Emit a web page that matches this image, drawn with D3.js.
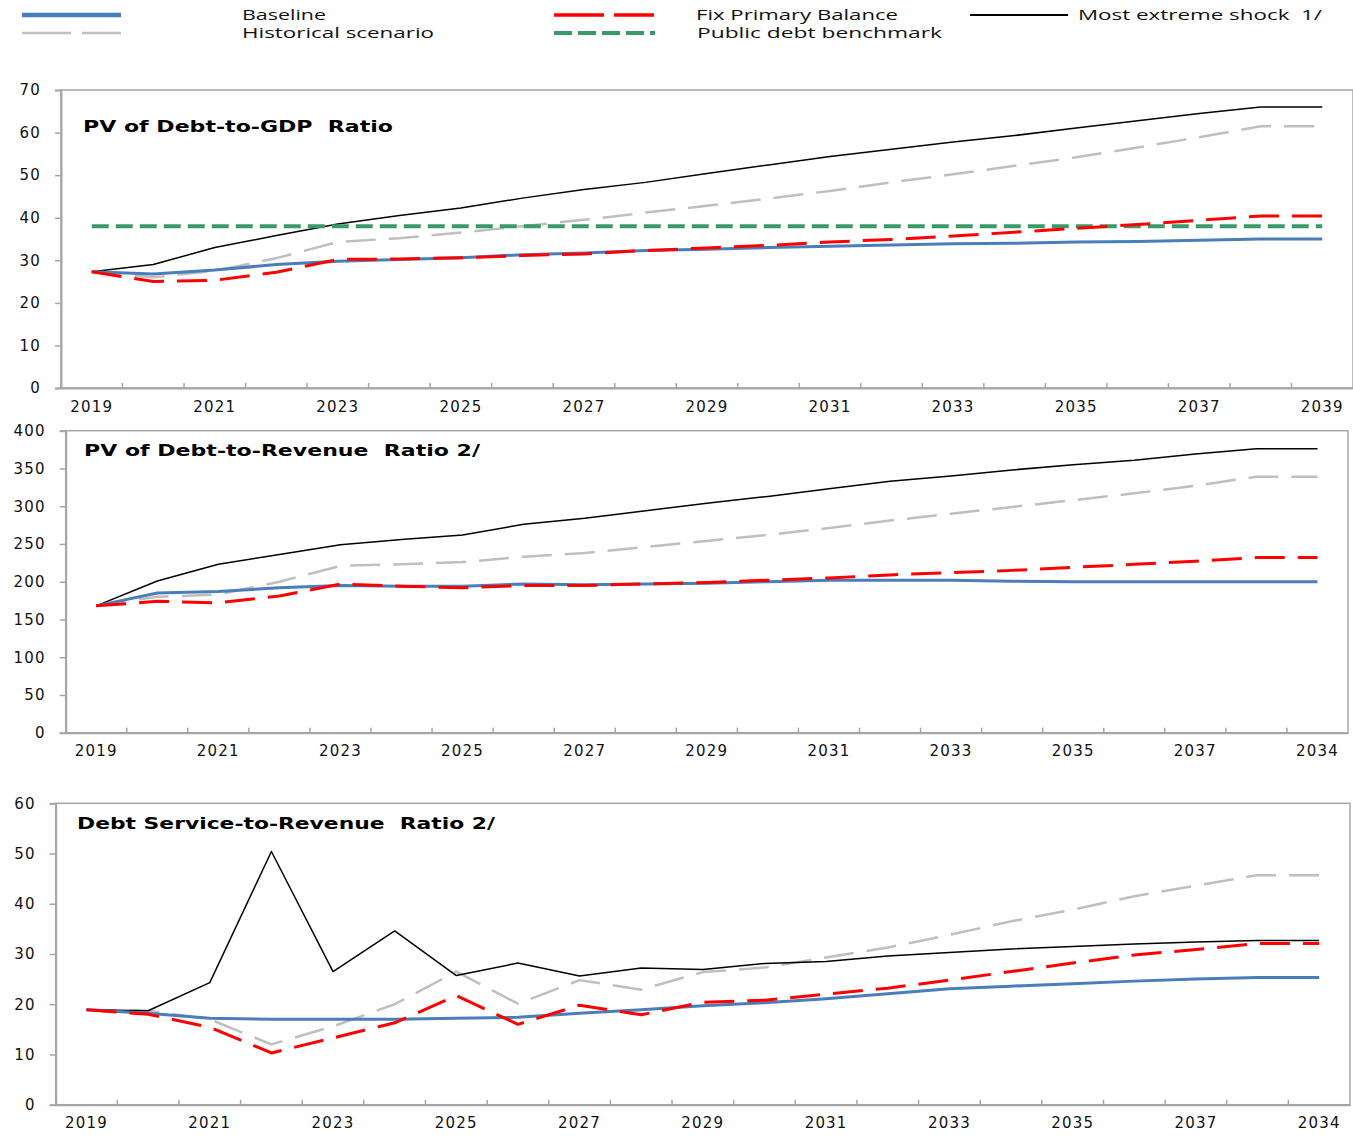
<!DOCTYPE html>
<html><head><meta charset="utf-8">
<script src="https://cdn.jsdelivr.net/npm/d3@7"></script>
<style>
body{margin:0;background:#fff;}
svg{display:block;}
.tick text{font-family:"DejaVu Sans",sans-serif;font-size:15px;fill:#111;letter-spacing:1.2px;}
.ttl{white-space:pre;}
</style></head>
<body>
<svg id="chart" width="1353" height="1137"></svg>
<script>
// ---------- data ----------
const years = d3.range(2019, 2040).map(String);
const xTickLabels1 = ["2019","2021","2023","2025","2027","2029","2031","2033","2035","2037","2039"];
const xTickLabels23 = ["2019","2021","2023","2025","2027","2029","2031","2033","2035","2037","2034"];

// Panel 1: PV of Debt-to-GDP
const gdpBaseline = [27.3,26.8,27.7,29.0,29.8,30.2,30.6,31.3,31.7,32.3,32.6,33.0,33.3,33.6,33.9,34.0,34.3,34.4,34.7,35.0,35.0];
const gdpFixPB    = [27.3,25.0,25.3,27.2,30.2,30.3,30.6,31.1,31.5,32.3,32.9,33.5,34.3,34.9,35.7,36.6,37.5,38.4,39.4,40.4,40.4];
const gdpHist     = [27.3,26.0,27.5,30.5,34.3,35.2,36.5,38.0,39.5,41.2,42.8,44.5,46.3,48.3,50.2,52.2,54.2,56.5,58.9,61.5,61.5];
const gdpShock    = [27.3,29.0,33.0,35.8,38.5,40.5,42.3,44.6,46.6,48.3,50.4,52.4,54.4,56.1,57.8,59.3,61.1,62.8,64.5,66.0,66.0];
const gdpBenchmark= [38,38,38,38,38,38,38,38,38,38,38,38,38,38,38,38,38,38,38,38,38];

// Panel 2: PV of Debt-to-Revenue
const revBaseline = [168,185,187,192,195,194,194,197,196,197,198,200,202,202,202,200.5,200,200,200,200,200];
const revFixPB    = [168,174,172,181,197,194,192,195,195,197,199,202,205,209,212,215,219,223,227,232,232];
const revHist     = [168,180,183,200,221,223,226,233,238,246,254,262,271,281,290,299,308,317,327,339,339];
const revShock    = [168,201,223,236,249,256,262,276,284,294,304,313,323,333,340,348,355,361,369,376,376];

// Panel 3: Debt Service-to-Revenue
const dsBaseline = [18.9,18.2,17.2,17.0,17.0,17.0,17.2,17.4,18.2,18.9,19.7,20.3,21.1,22.1,23.1,23.6,24.1,24.6,25.0,25.3,25.3];
const dsFixPB    = [18.9,18.0,15.4,10.3,13.3,16.3,21.7,16.0,19.8,17.9,20.4,20.8,22.0,23.2,24.8,26.5,28.2,29.8,30.9,32.1,32.1];
const dsHist     = [18.9,18.7,17.0,12.0,15.6,20.0,26.5,20.1,24.8,22.9,26.4,27.3,29.3,31.3,33.8,36.5,38.8,41.5,43.6,45.7,45.7];
const dsShock    = [18.9,18.7,24.3,50.4,26.5,34.6,25.7,28.2,25.6,27.2,26.9,28.1,28.5,29.6,30.3,31.0,31.5,32.0,32.4,32.7,32.7];

const legendNames = ["Baseline","Historical scenario","Fix Primary Balance","Public debt benchmark","Most extreme shock  1/"];

// ---------- styles ----------
const ST = {
  base:  {stroke:"#4A7EBB", width:3,   dash:null,    lw:4.5, ldash:null},
  fix:   {stroke:"#FF0000", width:3,   dash:"30,13", lw:3.5, ldash:"50,10"},
  hist:  {stroke:"#BFBFBF", width:2.5, dash:"30,13", lw:2.5, ldash:"49,11"},
  shock: {stroke:"#000000", width:1.5, dash:null,    lw:2,   ldash:null},
  bench: {stroke:"#3A9A68", width:4,   dash:"17,7",  lw:4,   ldash:"18,6"}
};
const svg = d3.select("#chart");
const FRAME = "#A6A6A6";

// ---------- legend ----------
const lg = svg.append("g").attr("font-family","'Open Sans',sans-serif").attr("font-size","14px").attr("fill","#111");
const legendItems = [
  {name:legendNames[0], st:ST.base,  x1:22,  x2:121, y:15, tx:242, tl:84},
  {name:legendNames[1], st:ST.hist,  x1:22,  x2:121, y:33, tx:242, tl:192},
  {name:legendNames[2], st:ST.fix,   x1:554, x2:654, y:15, tx:696, tl:202},
  {name:legendNames[3], st:ST.bench, x1:554, x2:655, y:33, tx:697, tl:245},
  {name:legendNames[4], st:ST.shock, x1:970, x2:1068,y:15, tx:1078,tl:244}
];
legendItems.forEach(it=>{
  lg.append("line").attr("x1",it.x1).attr("x2",it.x2).attr("y1",it.y).attr("y2",it.y)
    .attr("stroke",it.st.stroke).attr("stroke-width",it.st.lw)
    .attr("stroke-dasharray",it.st.ldash);
  lg.append("text").attr("class","ttl").attr("x",it.tx).attr("y",it.y+5).text(it.name)
    .attr("textLength",it.tl).attr("lengthAdjust","spacingAndGlyphs");
});

// ---------- panels ----------
function panel(cfg){
  const g = svg.append("g");
  const x = d3.scaleBand().domain(years).range([cfg.left, cfg.right]);
  const y = d3.scaleLinear().domain([0, cfg.ymax]).range([cfg.bottom, cfg.top]);
  // frame
  g.append("rect").attr("x",cfg.left).attr("y",cfg.top).attr("width",cfg.right-cfg.left).attr("height",cfg.bottom-cfg.top)
    .attr("fill","none").attr("stroke",FRAME).attr("stroke-width",1.5);
  // y axis
  const ya = g.append("g").attr("transform",`translate(${cfg.left},0)`)
    .call(d3.axisLeft(y).tickValues(d3.range(0,cfg.ymax+1,cfg.ystep)).tickSize(6).tickPadding(14));
  ya.select(".domain").attr("stroke",FRAME).attr("stroke-width",2);
  ya.selectAll(".tick line").attr("stroke",FRAME).attr("stroke-width",1.5);
  // x axis
  const xa = g.append("g").attr("transform",`translate(0,${cfg.bottom})`)
    .call(d3.axisBottom(x).tickValues(years.filter((d,i)=>i%2===0)).tickSize(0).tickPadding(13)
      .tickFormat((d,i)=>cfg.xlabels[i]));
  xa.select(".domain").attr("stroke",FRAME).attr("stroke-width",2);
  // band-boundary ticks (pointing up)
  g.selectAll(".bt").data(years.slice(1)).join("line")
    .attr("x1",d=>x(d)).attr("x2",d=>x(d)).attr("y1",cfg.bottom).attr("y2",cfg.bottom-5)
    .attr("stroke",FRAME).attr("stroke-width",1.5);
  // series
  const line = d3.line().x((d,i)=>x(years[i])+x.bandwidth()/2).y(d=>y(d));
  cfg.series.forEach(s=>{
    g.append("path").datum(s.values).attr("d",line).attr("fill","none")
      .attr("stroke",s.st.stroke).attr("stroke-width",s.st.width)
      .attr("stroke-dasharray",s.st.dash).attr("stroke-linejoin","round");
  });
  // title
  g.append("text").attr("class","ttl").attr("x",cfg.tx).attr("y",cfg.ty).text(cfg.title)
    .attr("font-family","'DejaVu Sans',sans-serif").attr("font-weight","bold").attr("font-size","16.5px")
    .attr("fill","#000").attr("textLength",cfg.tl).attr("lengthAdjust","spacingAndGlyphs");
}

panel({left:61, right:1353, top:90, bottom:388, ymax:70, ystep:10, xlabels:xTickLabels1,
  title:"PV of Debt-to-GDP  Ratio", tx:83, ty:132, tl:310,
  series:[{values:gdpHist,st:ST.hist},{values:gdpShock,st:ST.shock},{values:gdpBenchmark,st:ST.bench},
          {values:gdpBaseline,st:ST.base},{values:gdpFixPB,st:ST.fix}]});

panel({left:65.7, right:1348, top:430.7, bottom:732.7, ymax:400, ystep:50, xlabels:xTickLabels23,
  title:"PV of Debt-to-Revenue  Ratio 2/", tx:84, ty:456, tl:396,
  series:[{values:revHist,st:ST.hist},{values:revShock,st:ST.shock},
          {values:revBaseline,st:ST.base},{values:revFixPB,st:ST.fix}]});

panel({left:55.7, right:1350, top:803.3, bottom:1104.7, ymax:60, ystep:10, xlabels:xTickLabels23,
  title:"Debt Service-to-Revenue  Ratio 2/", tx:77, ty:829, tl:418,
  series:[{values:dsHist,st:ST.hist},{values:dsShock,st:ST.shock},
          {values:dsBaseline,st:ST.base},{values:dsFixPB,st:ST.fix}]});
</script>
</body></html>
